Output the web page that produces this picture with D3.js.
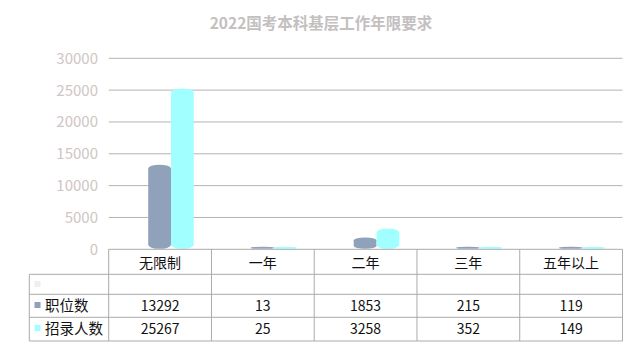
<!DOCTYPE html>
<html lang="zh">
  <head>
    <meta charset="utf-8">
    <title>2022国考本科基层工作年限要求</title>
    <script src="https://cdn.jsdelivr.net/npm/d3@7"></script>
    <style>
      body { margin: 0; background: #fff; }
      text { font-family: "Noto Sans CJK SC", "Noto Sans", sans-serif; }
    </style>
  </head>
  <body>
    <script>
      // data
      var categories = ["无限制", "一年", "二年", "三年", "五年以上"];
      var seriesNames = ["职位数", "招录人数"];
      var positions = [13292, 13, 1853, 215, 119];
      var recruits = [25267, 25, 3258, 352, 149];
      var yTicks = [0, 5000, 10000, 15000, 20000, 25000, 30000];
      var colors = ["#8fa2b9", "#a2ffff"];

      var W = 642, H = 362;
      var plotLeft = 108.7, plotRight = 622.5, plotTop = 58.3, base = 249.3;

      var svg = d3.select("body").append("svg")
                  .attr("width", W)
                  .attr("height", H);

      svg.append("text")
         .attr("x", 321).attr("y", 29)
         .attr("text-anchor", "middle")
         .style("font-size", "15.5px")
         .style("font-weight", "bold")
         .style("fill", "#c3c0c0")
         .text("2022国考本科基层工作年限要求");

      var x = d3.scaleBand().domain(categories).range([plotLeft, plotRight]);
      var y = d3.scaleLinear().domain([0, 30000]).range([base, plotTop]);

      // gridlines
      svg.selectAll("line.grid")
         .data(yTicks.slice(1))
         .enter().append("line")
         .attr("x1", plotLeft).attr("x2", plotRight)
         .attr("y1", function(d) { return y(d); })
         .attr("y2", function(d) { return y(d); })
         .style("stroke", "#b4b4b4")
         .style("stroke-width", 1);

      // y labels
      svg.selectAll("text.ytick")
         .data(yTicks)
         .enter().append("text")
         .attr("x", 98)
         .attr("y", function(d) { return y(d) + 5.5; })
         .attr("text-anchor", "end")
         .style("font-size", "15px")
         .style("fill", "#cfc6c6")
         .text(function(d) { return d; });

      // cylinders
      var bw = 22.8;
      function cyl(x0, yTop, yBot) {
        var rx = bw / 2;
        var h = yBot - yTop;
        var ry = Math.min(4, h / 4);
        var y0 = yTop + ry, y1 = yBot - ry;
        return "M" + x0 + "," + y0 +
          " A" + rx + "," + ry + " 0 0 1 " + (x0 + bw) + "," + y0 +
          " L" + (x0 + bw) + "," + y1 +
          " A" + rx + "," + ry + " 0 0 1 " + x0 + "," + y1 + " Z";
      }
      var series = [positions, recruits];
      series.forEach(function(vals, s) {
        svg.selectAll("path.s" + s)
           .data(vals)
           .enter().append("path")
           .attr("d", function(d, i) {
             var x0 = x(categories[i]) + 39.5 + s * bw;
             var yt = Math.min(y(d), base - 2.5);
             return cyl(x0, yt, base - 0.5);
           })
           .style("fill", colors[s]);
      });

      // data table
      var rows = [249.3, 274.3, 294.3, 317.3, 341];
      var tableLeft = 29.3;
      var g = svg.append("g").style("stroke", "#ababab").style("stroke-width", 1);
      g.append("line").attr("x1", plotLeft).attr("x2", plotRight).attr("y1", rows[0]).attr("y2", rows[0]);
      rows.slice(1).forEach(function(r) {
        g.append("line").attr("x1", tableLeft).attr("x2", plotRight).attr("y1", r).attr("y2", r);
      });
      g.append("line").attr("x1", tableLeft).attr("x2", tableLeft).attr("y1", rows[1]).attr("y2", rows[4]);
      categories.forEach(function(c) {
        g.append("line").attr("x1", x(c)).attr("x2", x(c)).attr("y1", rows[0]).attr("y2", rows[4]);
      });
      g.append("line").attr("x1", plotRight).attr("x2", plotRight).attr("y1", rows[0]).attr("y2", rows[4]);

      svg.selectAll("text.cat")
         .data(categories)
         .enter().append("text")
         .attr("x", function(d) { return x(d) + x.bandwidth() / 2; })
         .attr("y", 268)
         .attr("text-anchor", "middle")
         .style("font-size", "14px")
         .style("fill", "#111")
         .text(function(d) { return d; });

      // blank row marker
      svg.append("rect").attr("x", 34.5).attr("y", 281).attr("width", 6).attr("height", 6).style("fill", "#eeeeee");

      var rowBase = [311, 334];
      series.forEach(function(vals, s) {
        svg.append("rect")
           .attr("x", 34.5).attr("y", rowBase[s] - 9)
           .attr("width", 6).attr("height", 6)
           .style("fill", colors[s]);
        svg.append("text")
           .attr("x", 45).attr("y", rowBase[s])
           .style("font-size", "14.5px")
           .style("fill", "#111")
           .text(seriesNames[s]);
        svg.selectAll("text.v" + s)
           .data(vals)
           .enter().append("text")
           .attr("x", function(d, i) { return x(categories[i]) + x.bandwidth() / 2; })
           .attr("y", rowBase[s])
           .attr("text-anchor", "middle")
           .style("font-size", "14px")
           .style("fill", "#111")
           .text(function(d) { return d; });
      });
    </script>
  </body>
</html>
